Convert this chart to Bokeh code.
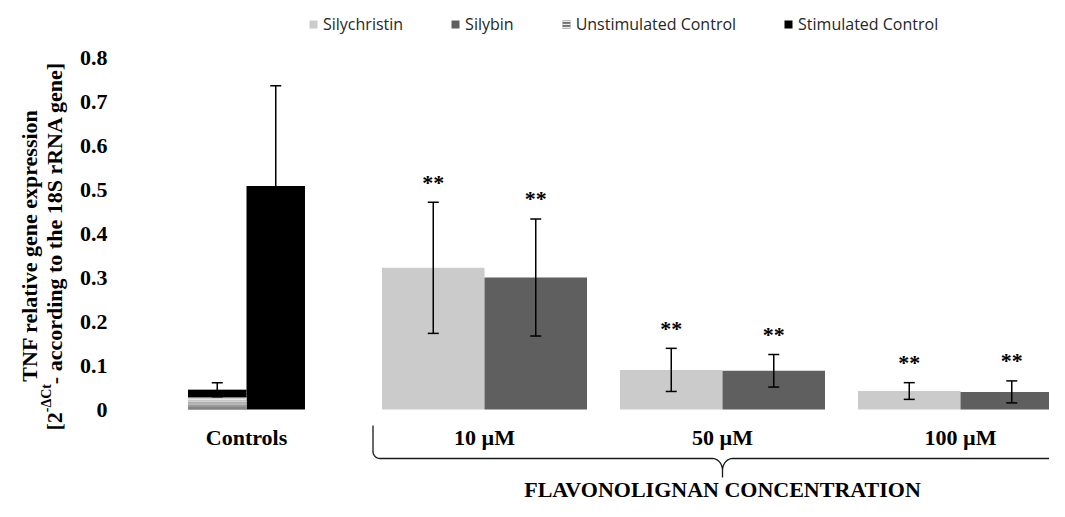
import numpy as np
from bokeh.plotting import figure
from bokeh.models import (ColumnDataSource, Range1d, Whisker, TeeHead,
                          Legend, LegendItem)
from bokeh.core.properties import value
from bokeh.embed import file_html
from bokeh.resources import INLINE

# ---------------- data ----------------
categories = ["Controls", "10 µM", "50 µM", "100 µM"]
control_names = ["Unstimulated Control", "Stimulated Control"]
control_values = [0.045, 0.508]
control_errors = [0.016, 0.228]
silychristin_values = [0.322, 0.090, 0.042]
silychristin_errors = [0.149, 0.049, 0.019]
silybin_values = [0.300, 0.088, 0.040]
silybin_errors = [0.133, 0.037, 0.025]
silychristin_marks = ["**", "**", "**"]
silybin_marks = ["**", "**", "**"]
y_ticks = [0, 0.1, 0.2, 0.3, 0.4, 0.5, 0.6, 0.7, 0.8]
y_tick_labels = ["0", "0.1", "0.2", "0.3", "0.4", "0.5", "0.6", "0.7", "0.8"]
y_title_line1 = "TNF relative gene expression"
y_title_line2 = ["[2", "-ΔCt", " - according to the 18S rRNA gene]"]
group_title = "FLAVONOLIGNAN CONCENTRATION"

# ---------------- layout (pixel helpers) ----------------
W, H = 1049, 501
X0 = 127            # pixel x of the plotting origin
ZERO = 409          # pixel y of value 0
PX_X, PX_Y = 238.0, 440.0


def X(px):
    return (px - X0) / PX_X


def Y(py):
    return (ZERO - py) / PX_Y


SERIF = value("Liberation Serif")

p = figure(width=W, height=H, output_backend="svg", toolbar_location=None,
           x_range=Range1d(X(0), X(W)), y_range=Range1d(Y(H), Y(0)),
           x_axis_location=None, y_axis_location=None,
           min_border_left=0, min_border_right=0,
           min_border_top=0, min_border_bottom=0)
p.outline_line_color = None
p.xgrid.visible = False
p.ygrid.visible = False

centers = np.arange(len(categories)) + 0.5
ctrl_w = 58.5 / PX_X
flav_w = 102.5 / PX_X
ctrl_x = centers[0] + np.array([-0.5, 0.5]) * ctrl_w
sily_x = centers[1:] - flav_w / 2
silb_x = centers[1:] + flav_w / 2

# ---------------- bars ----------------
r_sily = p.vbar(x=sily_x, top=silychristin_values, width=flav_w,
                fill_color="#cbcbcb", line_color=None)
r_silb = p.vbar(x=silb_x, top=silybin_values, width=flav_w,
                fill_color="#5f5f5f", line_color=None)
r_stim = p.vbar(x=[ctrl_x[1]], top=[control_values[1]], width=ctrl_w,
                fill_color="black", line_color=None)
r_unst = p.vbar(x=[ctrl_x[0]], top=[control_values[0]], width=ctrl_w,
                fill_color="#6e6e6e", line_color=None,
                hatch_pattern="horizontal_line", hatch_color="#e8e8e8",
                hatch_scale=3.0, hatch_weight=1.3)
# gradient look of the unstimulated control bar
bands = [(0.00, 0.12, "#858585"), (0.12, 0.25, "#999999"), (0.25, 0.35, "#b4b4b4"),
         (0.35, 0.45, "#d0d0d0"), (0.45, 0.55, "#e6e6e6"), (0.55, 0.62, "#bdbdbd"),
         (0.62, 1.00, "#000000")]
uv = control_values[0]
p.vbar(x=[ctrl_x[0]] * len(bands), bottom=[uv * b[0] for b in bands],
       top=[uv * b[1] for b in bands], width=ctrl_w,
       fill_color=[b[2] for b in bands], line_color=None)

# ---------------- error bars ----------------
ex = list(ctrl_x) + list(sily_x) + list(silb_x)
ev = control_values + silychristin_values + silybin_values
ee = control_errors + silychristin_errors + silybin_errors
esrc = ColumnDataSource(dict(base=ex,
                             upper=[v + e for v, e in zip(ev, ee)],
                             lower=[v - e for v, e in zip(ev, ee)]))
p.add_layout(Whisker(source=esrc, base="base", upper="upper", lower="lower",
                     dimension="height", line_color="black", line_width=1.5,
                     level="annotation",
                     upper_head=TeeHead(size=11, line_color="black", line_width=1.5),
                     lower_head=TeeHead(size=11, line_color="black", line_width=1.5)))

# ---------------- significance marks ----------------
star_gap = 20 / PX_Y
sx = list(sily_x) + list(silb_x)
sy = [v + e + star_gap for v, e in zip(silychristin_values + silybin_values,
                                       silychristin_errors + silybin_errors)]
p.text(x=sx, y=sy, text=silychristin_marks + silybin_marks,
       text_align="center", text_baseline="alphabetic", text_font=SERIF,
       text_font_style="bold", text_font_size="22px", text_color="black")

# ---------------- y tick labels ----------------
p.text(x=[X(107)] * len(y_ticks), y=y_ticks, text=y_tick_labels,
       text_align="right", text_baseline="middle", text_font=SERIF,
       text_font_style="bold", text_font_size="22px", text_color="black")

# ---------------- y axis title ----------------
p.text(x=[X(29)], y=[Y(245)], text=[y_title_line1], angle=np.pi / 2,
       text_align="center", text_baseline="alphabetic", text_font=SERIF,
       text_font_style="bold", text_font_size="22px", text_color="black")
pieces_px = [(0, 54, 22), (18.3, 46, 14), (46.3, 54, 22)]
start = 430
for txt, (off, bx, fs) in zip(y_title_line2, pieces_px):
    p.text(x=[X(bx)], y=[Y(start - off)], text=[txt], angle=np.pi / 2,
           text_align="left", text_baseline="alphabetic", text_font=SERIF,
           text_font_style="bold", text_font_size=f"{fs}px", text_color="black")

# ---------------- category labels ----------------
p.text(x=centers, y=[Y(437)] * len(categories), text=categories,
       text_align="center", text_baseline="middle", text_font=SERIF,
       text_font_style="bold", text_font_size="22px", text_color="black")

# ---------------- brace under the flavonolignan groups ----------------
bx0 = sily_x[0] - flav_w / 2 - 9 / PX_X
bx1 = silb_x[-1] + flav_w / 2 + 9 / PX_X
tip = centers[2]
y_top, y_h, y_bot = Y(425), Y(458), Y(477)
rx, ry = 7 / PX_X, 7 / PX_Y
cx_, cy_ = 10 / PX_X, 12 / PX_Y
t = np.linspace(0, np.pi / 2, 12)
bxs, bys = [bx0], [y_top]
bxs += list(bx0 + rx - rx * np.cos(t)); bys += list(y_h + ry - ry * np.sin(t))
bxs += list(tip - cx_ + cx_ * np.sin(t)); bys += list(y_h - cy_ + cy_ * np.cos(t))
bxs += [tip, tip]; bys += [y_bot, y_h - cy_]
bxs += list(tip + cx_ - cx_ * np.cos(t)); bys += list(y_h - cy_ + cy_ * np.sin(t))
bxs += list(bx1 - rx + rx * np.sin(t)); bys += list(y_h + ry - ry * np.cos(t))
bxs += [bx1]; bys += [y_top]
p.line(bxs, bys, line_color="#1a1a1a", line_width=1.3)

p.text(x=[tip], y=[Y(489)], text=[group_title], text_align="center",
       text_baseline="middle", text_font=SERIF, text_font_style="bold",
       text_font_size="22px", text_color="black")

# ---------------- legend ----------------
legend = Legend(items=[LegendItem(label="Silychristin", renderers=[r_sily]),
                       LegendItem(label="Silybin", renderers=[r_silb]),
                       LegendItem(label=control_names[0], renderers=[r_unst]),
                       LegendItem(label=control_names[1], renderers=[r_stim])],
                orientation="horizontal", location=(308, 466),
                glyph_width=10, glyph_height=10, label_standoff=5, spacing=47,
                padding=0, margin=0, border_line_color=None,
                background_fill_alpha=0, label_text_font="Open Sans",
                label_text_font_size="16px", label_text_color="#262626")
p.add_layout(legend)

open("out.html", "w").write(file_html(p, INLINE))
